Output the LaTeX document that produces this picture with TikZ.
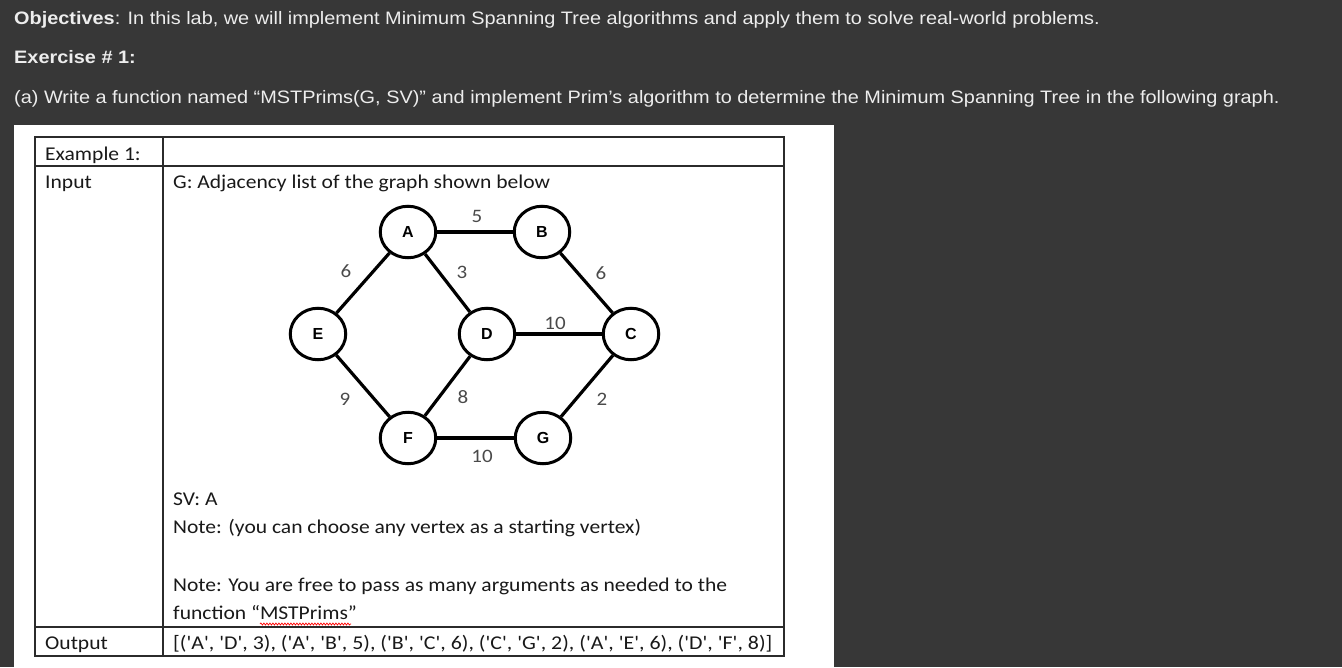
\documentclass[tikz,border=0pt]{standalone}
\usepackage{fontspec}
\setmainfont[FakeStretch=1.105]{Liberation Sans}
\newfontfamily\calib[FakeStretch=1.105]{Carlito}
\newfontfamily\calibplain{Carlito}
\newfontfamily\nodefont{Liberation Sans}
\usetikzlibrary{shapes.geometric,decorations.pathmorphing}
\definecolor{bgdark}{HTML}{373737}
\definecolor{toptext}{HTML}{EDEDED}
\definecolor{tabline}{HTML}{2B2B2B}
\definecolor{wgray}{HTML}{4A4A4A}
\newcommand{\sq}{\textquotesingle}
\begin{document}
\begin{tikzpicture}[x=1pt,y=-1pt,
  vert/.style={ellipse, draw=black, line width=3pt, minimum width=55.5pt, minimum height=51.5pt, inner sep=0pt, fill=white, font=\nodefont\fontsize{16}{16}\selectfont\bfseries},
  edgeline/.style={line width=3.2pt, draw=black},
  wlab/.style={inner sep=0pt, text=wgray, font=\calib\fontsize{19}{19}\selectfont},
  toptxt/.style={anchor=base west, inner sep=0pt, text=toptext, font=\fontsize{18}{18}\selectfont},
  celltxt/.style={anchor=base west, inner sep=0pt, text=black!90, font=\calib\fontsize{19.5}{19.5}\selectfont},
  gridline/.style={line width=1.6pt, draw=tabline}]
\useasboundingbox (0,0) rectangle (1342,667);
\fill[bgdark] (0,0) rectangle (1342,667);
\fill[white] (14,125) rectangle (834,667);
% header text
\node[toptxt] (obj) at (14,24) {\textbf{Objectives}: In this lab, we will implement Minimum Spanning Tree algorithms and apply them to solve real-world problems.};
\node[toptxt] (ex) at (14,63) {\textbf{Exercise \# 1:}};
\node[toptxt] (qa) at (14,103) {(a) Write a function named “MSTPrims(G, SV)” and implement Prim’s algorithm to determine the Minimum Spanning Tree in the following graph.};
% table
\draw[gridline] (35,137) rectangle (784,656);
\draw[gridline] (35,166) -- (784,166);
\draw[gridline] (35,627) -- (784,627);
\draw[gridline] (163,137) -- (163,656);
\node[celltxt] (c1) at (45,160) {Example 1:};
\node[celltxt] (c2) at (45,188) {Input};
\node[celltxt] (c3) at (173,188) {G: Adjacency list of the graph shown below};
\node[celltxt] (c4) at (173,505) {SV: A};
\node[celltxt] (c5) at (173,533) {Note: (you can choose any vertex as a starting vertex)};
\node[celltxt] (c6) at (173,591) {Note: You are free to pass as many arguments as needed to the};
\node[celltxt] (c7) at (173,619) {function “MSTPrims”};
\node[celltxt] (c8) at (45,649) {Output};
\node[celltxt, font=\calibplain\fontsize{19.5}{19.5}\selectfont] (c9) at (173,649) {\scalebox{1.122}[1]{[(\sq A\sq, \sq D\sq, 3), (\sq A\sq, \sq B\sq, 5), (\sq B\sq, \sq C\sq, 6), (\sq C\sq, \sq G\sq, 2), (\sq A\sq, \sq E\sq, 6), (\sq D\sq, \sq F\sq, 8)]}};
\coordinate (sqa) at (260,624);
\coordinate (sqb) at (351,624);
\draw[red, line width=0.7pt, decorate, decoration={snake, amplitude=1pt, segment length=3pt}] (sqa) -- (sqb);
% graph
\node[vert] (A) at (408,232) {A};
\node[vert] (B) at (542,232) {B};
\node[vert] (E) at (318,334) {E};
\node[vert] (D) at (487,334) {D};
\node[vert] (C) at (631,334) {C};
\node[vert] (F) at (408,438) {F};
\node[vert] (G) at (543,438) {G};
\draw[edgeline] (A) -- (B);
\draw[edgeline] (A) -- (E);
\draw[edgeline] (A) -- (D);
\draw[edgeline] (B) -- (C);
\draw[edgeline] (D) -- (C);
\draw[edgeline] (E) -- (F);
\draw[edgeline] (D) -- (F);
\draw[edgeline] (C) -- (G);
\draw[edgeline] (F) -- (G);
\node[wlab] (w1) at (477,216) {5};
\node[wlab] (w2) at (346,271) {6};
\node[wlab] (w3) at (462,272) {3};
\node[wlab] (w4) at (601,273) {6};
\node[wlab] (w5) at (555,323) {10};
\node[wlab] (w6) at (345,399) {9};
\node[wlab] (w7) at (463,397) {8};
\node[wlab] (w8) at (602,399) {2};
\node[wlab] (w9) at (482,456) {10};
\end{tikzpicture}
\end{document}
